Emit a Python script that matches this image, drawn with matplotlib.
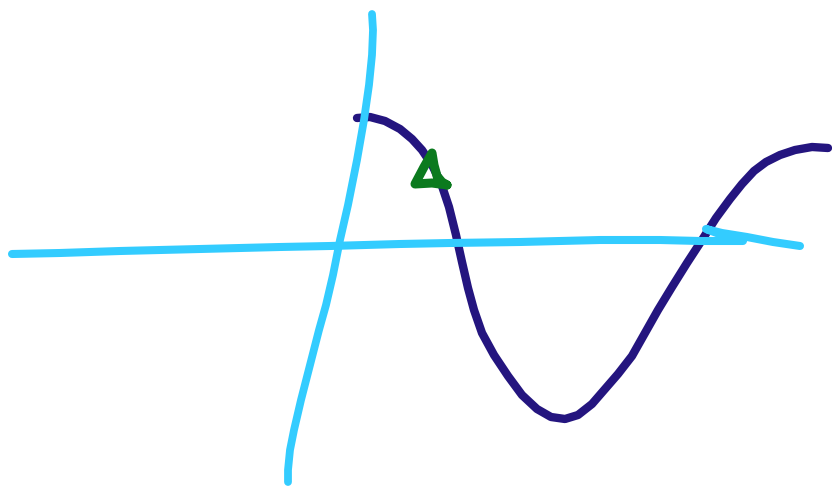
import matplotlib
matplotlib.use("Agg")
import matplotlib.pyplot as plt

# Stroke data (sketch coordinates, y downward)
haxis_x = [12, 60, 120, 200, 280, 330, 400, 450, 520, 600, 660, 700, 743, 730, 706, 722, 747, 773, 800]
haxis_y = [254, 253, 251, 249, 247, 246, 244, 243, 242, 240, 240, 241, 241, 238, 229, 233, 237, 242, 246]

vaxis_x = [372, 373, 372, 369, 364, 357, 348, 340, 333, 326, 319, 310, 301, 294, 290, 288, 288]
vaxis_y = [14, 30, 55, 85, 120, 160, 205, 240, 275, 305, 330, 365, 400, 430, 450, 470, 482]

curve_x = [357, 370, 385, 400, 412, 422, 432, 441, 449, 456, 462, 468, 474, 482, 494, 508, 522, 537, 551, 565, 578, 592, 605, 618, 632, 645, 658, 672, 687, 702, 716, 730, 742, 754, 766, 780, 795, 812, 828]
curve_y = [118, 117, 121, 129, 139, 150, 165, 183, 207, 235, 262, 288, 310, 333, 355, 376, 395, 409, 417, 419, 415, 404, 389, 374, 356, 333, 310, 287, 263, 240, 218, 199, 184, 171, 162, 155, 150, 147, 148]

letter_x = [447, 432, 415, 424, 432, 434, 437, 442, 447]
letter_y = [185, 183, 184, 167, 153, 165, 176, 182, 185]

fig = plt.figure(figsize=(8.32, 4.88), dpi=100)
ax = fig.add_axes([0, 0, 1, 1])
ax.set_xlim(0, 832)
ax.set_ylim(488, 0)
ax.axis("off")

kw = dict(solid_capstyle="round", solid_joinstyle="round")
ax.plot(curve_x, curve_y, color="#24157F", lw=6.0, zorder=2, **kw)
ax.plot(haxis_x, haxis_y, color="#33CCFF", lw=5.8, zorder=3, **kw)
ax.plot(vaxis_x, vaxis_y, color="#33CCFF", lw=5.6, zorder=3, **kw)
ax.plot(letter_x, letter_y, color="#0B7A1E", lw=6.5, zorder=4, **kw)

fig.savefig("out.png", dpi=100, facecolor="white")
